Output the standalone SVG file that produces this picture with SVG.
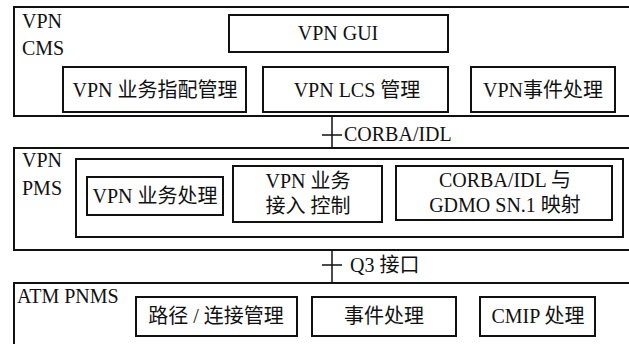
<svg xmlns="http://www.w3.org/2000/svg" width="629" height="344" viewBox="0 0 629 344">
  <style>
    .frame { fill: none; stroke: #111; stroke-width: 2; }
    .box { fill: #fff; stroke: #111; stroke-width: 2; }
    .wire { fill: none; stroke: #111; stroke-width: 1.5; }
    .lbl { font-family: "Liberation Serif", "Noto Sans CJK SC", serif; font-size: 20px; fill: #111; }
    .mid { text-anchor: middle; }
  </style>
  <rect width="629" height="344" fill="#fff"/>

  <!-- VPN CMS layer -->
  <g id="cms">
    <rect class="frame" x="14" y="7" width="620" height="109"/>
    <text class="lbl" x="22" y="28">VPN</text>
    <text class="lbl" x="22" y="55">CMS</text>
  </g>
  <g id="cms-gui">
    <rect class="box" x="229" y="15" width="219" height="37"/>
    <text class="lbl mid" x="338" y="40">VPN GUI</text>
  </g>
  <g id="cms-provision">
    <rect class="box" x="63" y="67" width="183" height="45"/>
    <text class="lbl mid" x="155" y="97">VPN 业务指配管理</text>
  </g>
  <g id="cms-lcs">
    <rect class="box" x="263" y="67" width="185" height="45"/>
    <text class="lbl mid" x="357" y="97">VPN LCS 管理</text>
  </g>
  <g id="cms-event">
    <rect class="box" x="471" y="67" width="144" height="45"/>
    <text class="lbl mid" x="543" y="97">VPN事件处理</text>
  </g>

  <!-- VPN PMS layer -->
  <g id="pms">
    <rect class="frame" x="14" y="148" width="620" height="102"/>
    <text class="lbl" x="22" y="167">VPN</text>
    <text class="lbl" x="22" y="195">PMS</text>
    <rect class="frame" x="76" y="159" width="547" height="78"/>
  </g>
  <g id="pms-service">
    <rect class="box" x="87" y="177" width="136" height="38"/>
    <text class="lbl mid" x="155" y="203">VPN 业务处理</text>
  </g>
  <g id="pms-access">
    <rect class="box" x="233" y="166" width="149" height="56"/>
    <text class="lbl mid" x="308" y="188">VPN 业务</text>
    <text class="lbl mid" x="308" y="213">接入 控制</text>
  </g>
  <g id="pms-mapping">
    <rect class="box" x="396" y="166" width="216" height="54"/>
    <text class="lbl mid" x="505" y="187">CORBA/IDL 与</text>
    <text class="lbl mid" x="505" y="212">GDMO SN.1 映射</text>
  </g>

  <!-- ATM PNMS layer -->
  <g id="pnms">
    <rect class="frame" x="14" y="283" width="620" height="70"/>
    <text class="lbl" x="17" y="303">ATM PNMS</text>
  </g>
  <g id="pnms-path">
    <rect class="box" x="136" y="297" width="161" height="39"/>
    <text class="lbl mid" x="216" y="323">路径 / 连接管理</text>
  </g>
  <g id="pnms-event">
    <rect class="box" x="312" y="297" width="144" height="39"/>
    <text class="lbl mid" x="384" y="323">事件处理</text>
  </g>
  <g id="pnms-cmip">
    <rect class="box" x="480" y="297" width="115" height="39"/>
    <text class="lbl mid" x="538" y="323">CMIP 处理</text>
  </g>

  <!-- interfaces between layers -->
  <g id="connectors">
    <path class="wire" d="M332 116 V148 M322 135 H342"/>
    <text class="lbl" x="344" y="141">CORBA/IDL</text>
    <path class="wire" d="M332 250 V283 M322 265 H342"/>
    <text class="lbl" x="350" y="272">Q3 接口</text>
  </g>
</svg>
